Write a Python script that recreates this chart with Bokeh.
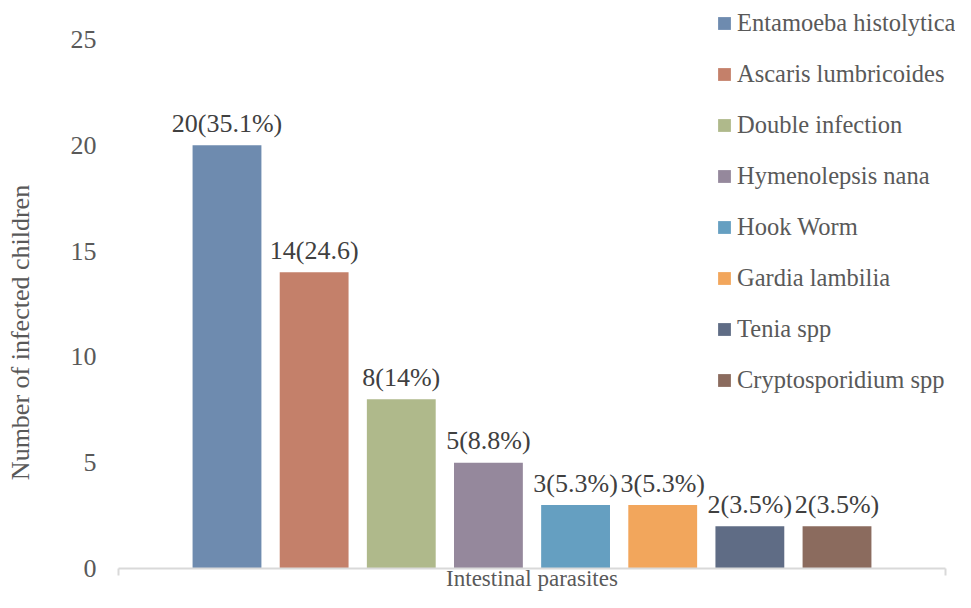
import math
from bokeh.plotting import figure
from bokeh.models import Range1d, FixedTicker, Label, Legend, LegendItem
from bokeh.embed import file_html
from bokeh.resources import INLINE

categories = ["Entamoeba histolytica", "Ascaris lumbricoides", "Double infection",
              "Hymenolepsis nana", "Hook Worm", "Gardia lambilia", "Tenia spp",
              "Cryptosporidium spp"]
counts = [20, 14, 8, 5, 3, 3, 2, 2]
bar_labels = ["20(35.1%)", "14(24.6)", "8(14%)", "5(8.8%)", "3(5.3%)", "3(5.3%)",
              "2(3.5%)", "2(3.5%)"]
colors = ["#6E8BAF", "#C4806A", "#AFB98B", "#95889C", "#659FC1", "#F2A65C",
          "#5F6C85", "#8B6B5E"]
y_ticks = [0, 5, 10, 15, 20, 25]
x_title = "Intestinal parasites"
y_title = "Number of infected children"

FONT = "Liberation Serif"
W, H = 955, 592
# plot-area geometry in canvas pixels
PL, PR, PT, PB = 118, 945, 39, 568
Y_MAX = 25
n = len(categories)
xs = list(range(1, n + 1))
mid = (n + 1) / 2
half = 4.745                      # half width of the plot area in category units
px_x = (PR - PL) / (2 * half)
px_y = (PB - PT) / Y_MAX
x_lo = mid - (PL + PR) / 2 / px_x
x_hi = mid + (W - (PL + PR) / 2) / px_x
y_lo = -(H - PB) / px_y
y_hi = Y_MAX + PT / px_y


def dx(sx):
    return x_lo + sx / px_x


def dy(sy):
    return y_hi - sy / px_y


p = figure(width=W, height=H, output_backend="svg", toolbar_location=None,
           x_range=Range1d(x_lo, x_hi), y_range=Range1d(y_lo, y_hi),
           min_border=0, min_border_left=0, min_border_right=0,
           min_border_top=0, min_border_bottom=0)
p.outline_line_color = None
p.xgrid.visible = False
p.ygrid.visible = False

items = []
for i in range(n):
    r = p.vbar(x=[xs[i]], top=[counts[i]], width=0.79, bottom=0,
               fill_color=colors[i], line_color=None)
    items.append(LegendItem(label=categories[i], renderers=[r]))

p.text(x=xs, y=counts, text=bar_labels, text_align="center", text_baseline="middle",
       y_offset=-22, text_font_size="26px", text_color="#404040",
       text_font={"value": FONT})

# y axis
ya = p.yaxis[0]
ya.fixed_location = mid - half
ya.bounds = (0, Y_MAX)
ya.ticker = FixedTicker(ticks=y_ticks)
ya.axis_line_color = None
ya.major_tick_line_color = None
ya.minor_tick_line_color = None
ya.major_tick_out = 0
ya.major_tick_in = 0
ya.major_label_standoff = 22
ya.major_label_text_font = FONT
ya.major_label_text_font_size = "26px"
ya.major_label_text_color = "#595959"

# x axis (line with small end ticks, no tick labels)
ends = [mid - half, mid + half]
xa = p.xaxis[0]
xa.fixed_location = 0
xa.bounds = (ends[0], ends[1])
xa.ticker = FixedTicker(ticks=ends)
xa.major_label_overrides = {ends[0]: "", ends[1]: ""}
xa.axis_line_color = "#D9D9D9"
xa.axis_line_width = 2
xa.major_tick_line_color = "#D9D9D9"
xa.major_tick_line_width = 2
xa.major_tick_out = 7
xa.major_tick_in = 0
xa.minor_tick_line_color = None
xa.major_label_standoff = 0

p.add_layout(Label(x=mid, y=dy(577.5), text=x_title, text_align="center",
                   text_baseline="middle", text_font=FONT, text_font_size="23px",
                   text_color="#595959"))
p.add_layout(Label(x=dx(20), y=dy(332), text=y_title, text_align="center",
                   text_baseline="middle", angle=math.pi / 2, text_font=FONT,
                   text_font_size="26px", text_color="#595959"))

legend = Legend(items=items, location=(716, 198), padding=0, margin=0,
                border_line_color=None, background_fill_alpha=0,
                glyph_width=16, glyph_height=16, label_standoff=5, spacing=23,
                label_height=28,
                label_text_font=FONT, label_text_font_size="24.5px",
                label_text_color="#595959")
p.add_layout(legend)

open("out.html", "w").write(file_html(p, INLINE))
